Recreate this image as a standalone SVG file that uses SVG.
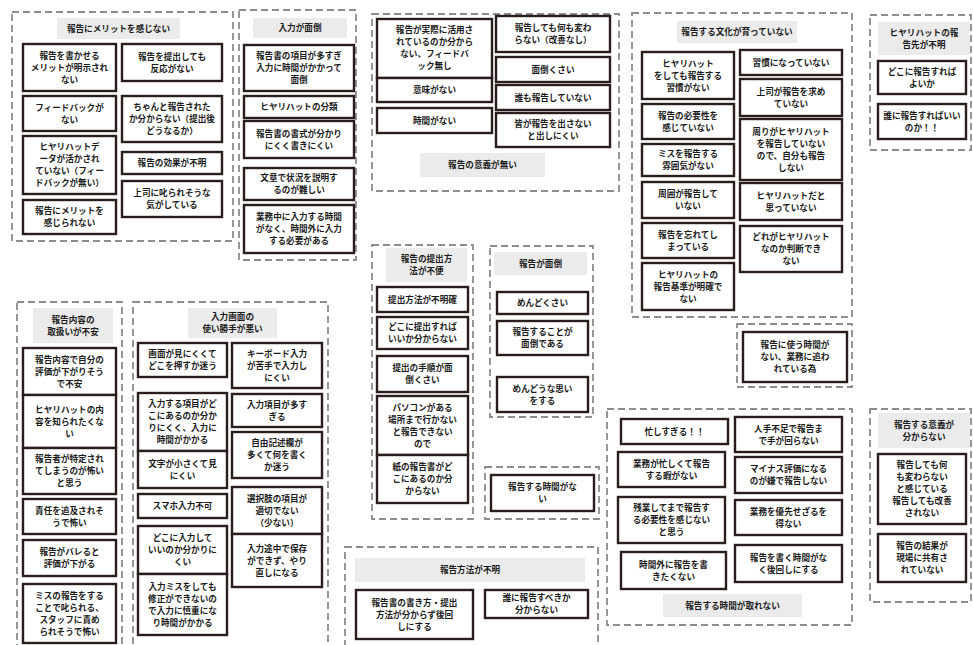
<svg xmlns="http://www.w3.org/2000/svg" width="973" height="645" viewBox="0 0 973 645">
<style>
.grp{fill:none;stroke:#8c8c8c;stroke-width:1.8;stroke-dasharray:7 4}
.bx{fill:#fff;stroke:#2b1d1b;stroke-width:2.4}
.hd{fill:#ebebeb}
.t{font-family:"Noto Sans CJK JP","Noto Sans",sans-serif;font-size:8.6px;font-weight:bold;fill:#1a1a1a;text-anchor:middle}
</style>
<rect width="973" height="645" fill="#fff"/>
<g id="connectors"/>

<g id="groupA">
<rect class="grp" x="12" y="12" width="221" height="229"/>
<rect class="hd" x="57" y="18" width="123" height="21"/>
<text class="t" x="118.5" y="31.5">報告にメリットを感じない</text>
<g id="A1"><rect class="bx" x="23" y="44" width="93" height="47"/><text class="t" y="58.5"><tspan x="69.5">報告を書かせる</tspan><tspan x="69.5" dy="12">メリットが明示され</tspan><tspan x="69.5" dy="12">ない</tspan></text></g>
<g id="A2"><rect class="bx" x="23" y="96" width="93" height="35"/><text class="t" y="110.5"><tspan x="69.5">フィードバックが</tspan><tspan x="69.5" dy="12">ない</tspan></text></g>
<g id="A3"><rect class="bx" x="23" y="136" width="93" height="58"/><text class="t" y="150"><tspan x="69.5">ヒヤリハットデ</tspan><tspan x="69.5" dy="12">ータが活かされ</tspan><tspan x="69.5" dy="12">ていない（フィー</tspan><tspan x="69.5" dy="12">ドバックが無い）</tspan></text></g>
<g id="A4"><rect class="bx" x="23" y="200" width="93" height="34"/><text class="t" y="214"><tspan x="69.5">報告にメリットを</tspan><tspan x="69.5" dy="12">感じられない</tspan></text></g>
<g id="A5"><rect class="bx" x="122" y="44" width="100" height="37"/><text class="t" y="59.5"><tspan x="172">報告を提出しても</tspan><tspan x="172" dy="12">反応がない</tspan></text></g>
<g id="A6"><rect class="bx" x="122" y="96" width="100" height="46"/><text class="t" y="110"><tspan x="172">ちゃんと報告された</tspan><tspan x="172" dy="12">か分からない（提出後</tspan><tspan x="172" dy="12">どうなるか）</tspan></text></g>
<g id="A7"><rect class="bx" x="122" y="152" width="100" height="22"/><text class="t" x="172" y="166">報告の効果が不明</text></g>
<g id="A8"><rect class="bx" x="122" y="181" width="100" height="36"/><text class="t" y="196"><tspan x="172">上司に叱られそうな</tspan><tspan x="172" dy="12">気がしている</tspan></text></g>
</g>

<g id="groupB">
<rect class="grp" x="239" y="10" width="117" height="250"/>
<rect class="hd" x="253" y="18" width="94" height="20"/>
<text class="t" x="300" y="31">入力が面倒</text>
<g id="B1"><rect class="bx" x="244" y="45" width="110" height="46"/><text class="t" y="59"><tspan x="299">報告書の項目が多すぎ</tspan><tspan x="299" dy="12">入力に時間がかかって</tspan><tspan x="299" dy="12">面倒</tspan></text></g>
<g id="B2"><rect class="bx" x="244" y="96" width="110" height="22"/><text class="t" x="299" y="110">ヒヤリハットの分類</text></g>
<g id="B3"><rect class="bx" x="244" y="121" width="110" height="37"/><text class="t" y="136.5"><tspan x="299">報告書の書式が分かり</tspan><tspan x="299" dy="12">にくく書きにくい</tspan></text></g>
<g id="B4"><rect class="bx" x="244" y="168" width="110" height="32"/><text class="t" y="181"><tspan x="299">文章で状況を説明す</tspan><tspan x="299" dy="12">るのが難しい</tspan></text></g>
<g id="B5"><rect class="bx" x="244" y="205" width="110" height="48"/><text class="t" y="220"><tspan x="299">業務中に入力する時間</tspan><tspan x="299" dy="12">がなく、時間外に入力</tspan><tspan x="299" dy="12">する必要がある</tspan></text></g>
</g>

<g id="groupC">
<rect class="grp" x="372" y="14" width="247" height="177"/>
<rect class="hd" x="420" y="153" width="125" height="24"/>
<text class="t" x="482.5" y="168">報告の意義が無い</text>
<g id="C1"><rect class="bx" x="377" y="19" width="115" height="59"/><text class="t" y="33"><tspan x="434.5">報告が実際に活用さ</tspan><tspan x="434.5" dy="12">れているのか分から</tspan><tspan x="434.5" dy="12">ない、フィードバ</tspan><tspan x="434.5" dy="12">ック無し</tspan></text></g>
<g id="C2"><rect class="bx" x="377" y="78" width="115" height="24"/><text class="t" x="434.5" y="93">意味がない</text></g>
<g id="C3"><rect class="bx" x="377" y="108" width="115" height="25"/><text class="t" x="434.5" y="123.5">時間がない</text></g>
<g id="C4"><rect class="bx" x="496" y="16" width="114" height="36"/><text class="t" y="31"><tspan x="553">報告しても何も変わ</tspan><tspan x="553" dy="12">らない（改善なし）</tspan></text></g>
<g id="C5"><rect class="bx" x="496" y="57" width="114" height="25"/><text class="t" x="553" y="72.5">面倒くさい</text></g>
<g id="C6"><rect class="bx" x="496" y="85" width="114" height="25"/><text class="t" x="553" y="100.5">誰も報告していない</text></g>
<g id="C7"><rect class="bx" x="496" y="113" width="114" height="34"/><text class="t" y="127"><tspan x="553">皆が報告を出さない</tspan><tspan x="553" dy="12">と出しにくい</tspan></text></g>
</g>

<g id="groupD">
<rect class="grp" x="632" y="13" width="220" height="304"/>
<rect class="hd" x="677" y="21" width="120" height="22"/>
<text class="t" x="737" y="35">報告する文化が育っていない</text>
<g id="D1"><rect class="bx" x="642" y="52" width="92" height="47"/><text class="t" y="66.5"><tspan x="688">ヒヤリハット</tspan><tspan x="688" dy="12">をしても報告する</tspan><tspan x="688" dy="12">習慣がない</tspan></text></g>
<g id="D2"><rect class="bx" x="642" y="104" width="92" height="35"/><text class="t" y="118.5"><tspan x="688">報告の必要性を</tspan><tspan x="688" dy="12">感じていない</tspan></text></g>
<g id="D3"><rect class="bx" x="642" y="144" width="92" height="32"/><text class="t" y="157"><tspan x="688">ミスを報告する</tspan><tspan x="688" dy="12">雰囲気がない</tspan></text></g>
<g id="D4"><rect class="bx" x="642" y="182" width="92" height="36"/><text class="t" y="197"><tspan x="688">周囲が報告して</tspan><tspan x="688" dy="12">いない</tspan></text></g>
<g id="D5"><rect class="bx" x="642" y="223" width="92" height="35"/><text class="t" y="237.5"><tspan x="688">報告を忘れてし</tspan><tspan x="688" dy="12">まっている</tspan></text></g>
<g id="D6"><rect class="bx" x="642" y="263" width="92" height="47"/><text class="t" y="277.5"><tspan x="688">ヒヤリハットの</tspan><tspan x="688" dy="12">報告基準が明確で</tspan><tspan x="688" dy="12">ない</tspan></text></g>
<g id="D7"><rect class="bx" x="740" y="50" width="102" height="25"/><text class="t" x="791" y="65.5">習慣になっていない</text></g>
<g id="D8"><rect class="bx" x="740" y="79" width="102" height="37"/><text class="t" y="94.5"><tspan x="791">上司が報告を求め</tspan><tspan x="791" dy="12">ていない</tspan></text></g>
<g id="D9"><rect class="bx" x="740" y="119" width="102" height="61"/><text class="t" y="134.5"><tspan x="791">周りがヒヤリハット</tspan><tspan x="791" dy="12">を報告していない</tspan><tspan x="791" dy="12">ので、自分も報告</tspan><tspan x="791" dy="12">しない</tspan></text></g>
<g id="D10"><rect class="bx" x="740" y="183" width="102" height="37"/><text class="t" y="198.5"><tspan x="791">ヒヤリハットだと</tspan><tspan x="791" dy="12">思っていない</tspan></text></g>
<g id="D11"><rect class="bx" x="740" y="226" width="102" height="46"/><text class="t" y="240"><tspan x="791">どれがヒヤリハット</tspan><tspan x="791" dy="12">なのか判断でき</tspan><tspan x="791" dy="12">ない</tspan></text></g>
</g>

<g id="groupE">
<rect class="grp" x="870" y="15" width="101" height="135"/>
<rect class="hd" x="878" y="22" width="92" height="33"/>
<text class="t" y="35.5"><tspan x="924">ヒヤリハットの報</tspan><tspan x="924" dy="12">告先が不明</tspan></text>
<g id="E1"><rect class="bx" x="878" y="61" width="88" height="33"/><text class="t" y="74.5"><tspan x="922">どこに報告すれば</tspan><tspan x="922" dy="12">よいか</tspan></text></g>
<g id="E2"><rect class="bx" x="878" y="104" width="88" height="35"/><text class="t" y="118.5"><tspan x="922">誰に報告すればいい</tspan><tspan x="922" dy="12">のか！！</tspan></text></g>
</g>

<g id="groupF">
<rect class="grp" x="17" y="302" width="105" height="350"/>
<rect class="hd" x="33" y="308" width="80" height="35"/>
<text class="t" y="322.5"><tspan x="73">報告内容の</tspan><tspan x="73" dy="12">取扱いが不安</tspan></text>
<g id="F1"><rect class="bx" x="23" y="348" width="93" height="47"/><text class="t" y="362.5"><tspan x="69.5">報告内容で自分の</tspan><tspan x="69.5" dy="12">評価が下がりそう</tspan><tspan x="69.5" dy="12">で不安</tspan></text></g>
<g id="F2"><rect class="bx" x="23" y="395" width="93" height="53"/><text class="t" y="412.5"><tspan x="69.5">ヒヤリハットの内</tspan><tspan x="69.5" dy="12">容を知られたくな</tspan><tspan x="69.5" dy="12">い</tspan></text></g>
<g id="F3"><rect class="bx" x="23" y="448" width="93" height="46"/><text class="t" y="462"><tspan x="69.5">報告者が特定され</tspan><tspan x="69.5" dy="12">てしまうのが怖い</tspan><tspan x="69.5" dy="12">と思う</tspan></text></g>
<g id="F4"><rect class="bx" x="23" y="499" width="93" height="35"/><text class="t" y="513.5"><tspan x="69.5">責任を追及されそ</tspan><tspan x="69.5" dy="12">うで怖い</tspan></text></g>
<g id="F5"><rect class="bx" x="23" y="540" width="93" height="36"/><text class="t" y="555"><tspan x="69.5">報告がバレると</tspan><tspan x="69.5" dy="12">評価が下がる</tspan></text></g>
<g id="F6"><rect class="bx" x="23" y="584" width="93" height="59"/><text class="t" y="598.5"><tspan x="69.5">ミスの報告をする</tspan><tspan x="69.5" dy="12">ことで叱られる、</tspan><tspan x="69.5" dy="12">スタッフに責め</tspan><tspan x="69.5" dy="12">られそうで怖い</tspan></text></g>
</g>

<g id="groupG">
<rect class="grp" x="133" y="302" width="195" height="350"/>
<rect class="hd" x="188" y="308" width="89" height="30"/>
<text class="t" y="320"><tspan x="232.5">入力画面の</tspan><tspan x="232.5" dy="12">使い勝手が悪い</tspan></text>
<g id="G1"><rect class="bx" x="138" y="343" width="89" height="34"/><text class="t" y="357"><tspan x="182.5">画面が見にくくて</tspan><tspan x="182.5" dy="12">どこを押すか迷う</tspan></text></g>
<g id="G2"><rect class="bx" x="138" y="393" width="89" height="58"/><text class="t" y="407"><tspan x="182.5">入力する項目がど</tspan><tspan x="182.5" dy="12">こにあるのか分か</tspan><tspan x="182.5" dy="12">りにくく、入力に</tspan><tspan x="182.5" dy="12">時間がかかる</tspan></text></g>
<g id="G3"><rect class="bx" x="138" y="451" width="89" height="37"/><text class="t" y="466.5"><tspan x="182.5">文字が小さくて見</tspan><tspan x="182.5" dy="12">にくい</tspan></text></g>
<g id="G4"><rect class="bx" x="138" y="494" width="89" height="24"/><text class="t" x="182.5" y="509">スマホ入力不可</text></g>
<g id="G5"><rect class="bx" x="138" y="526" width="89" height="48"/><text class="t" y="541"><tspan x="182.5">どこに入力して</tspan><tspan x="182.5" dy="12">いいのか分かりに</tspan><tspan x="182.5" dy="12">くい</tspan></text></g>
<g id="G6"><rect class="bx" x="138" y="574" width="89" height="61"/><text class="t" y="589.5"><tspan x="182.5">入力ミスをしても</tspan><tspan x="182.5" dy="12">修正ができないの</tspan><tspan x="182.5" dy="12">で入力に慎重にな</tspan><tspan x="182.5" dy="12">り時間がかかる</tspan></text></g>
<g id="G7"><rect class="bx" x="232" y="343" width="90" height="45"/><text class="t" y="356.5"><tspan x="277">キーボード入力</tspan><tspan x="277" dy="12">が苦手で入力し</tspan><tspan x="277" dy="12">にくい</tspan></text></g>
<g id="G8"><rect class="bx" x="232" y="394" width="90" height="33"/><text class="t" y="407.5"><tspan x="277">入力項目が多す</tspan><tspan x="277" dy="12">ぎる</tspan></text></g>
<g id="G9"><rect class="bx" x="232" y="432" width="90" height="46"/><text class="t" y="446"><tspan x="277">自由記述欄が</tspan><tspan x="277" dy="12">多くて何を書く</tspan><tspan x="277" dy="12">か迷う</tspan></text></g>
<g id="G10"><rect class="bx" x="232" y="487" width="90" height="47"/><text class="t" y="501.5"><tspan x="277">選択肢の項目が</tspan><tspan x="277" dy="12">適切でない</tspan><tspan x="277" dy="12">（少ない）</tspan></text></g>
<g id="G11"><rect class="bx" x="232" y="534" width="90" height="53"/><text class="t" y="551.5"><tspan x="277">入力途中で保存</tspan><tspan x="277" dy="12">ができず、やり</tspan><tspan x="277" dy="12">直しになる</tspan></text></g>
</g>

<g id="groupH">
<rect class="grp" x="372" y="245" width="101" height="274"/>
<rect class="hd" x="386" y="248" width="81" height="34"/>
<text class="t" y="262"><tspan x="426.5">報告の提出方</tspan><tspan x="426.5" dy="12">法が不便</tspan></text>
<g id="H1"><rect class="bx" x="377" y="287" width="91" height="25"/><text class="t" x="422.5" y="302.5">提出方法が不明確</text></g>
<g id="H2"><rect class="bx" x="377" y="317" width="91" height="32"/><text class="t" y="330"><tspan x="422.5">どこに提出すれば</tspan><tspan x="422.5" dy="12">いいか分からない</tspan></text></g>
<g id="H3"><rect class="bx" x="377" y="356" width="91" height="36"/><text class="t" y="371"><tspan x="422.5">提出の手順が面</tspan><tspan x="422.5" dy="12">倒くさい</tspan></text></g>
<g id="H4"><rect class="bx" x="377" y="396" width="91" height="59"/><text class="t" y="410.5"><tspan x="422.5">パソコンがある</tspan><tspan x="422.5" dy="12">場所まで行かない</tspan><tspan x="422.5" dy="12">と報告できない</tspan><tspan x="422.5" dy="12">ので</tspan></text></g>
<g id="H5"><rect class="bx" x="377" y="455" width="91" height="48"/><text class="t" y="470"><tspan x="422.5">紙の報告書がど</tspan><tspan x="422.5" dy="12">こにあるのか分</tspan><tspan x="422.5" dy="12">からない</tspan></text></g>
</g>

<g id="groupI">
<rect class="grp" x="490" y="246" width="103" height="171"/>
<rect class="hd" x="494" y="252" width="93" height="23"/>
<text class="t" x="540.5" y="266.5">報告が面倒</text>
<g id="I1"><rect class="bx" x="497" y="292" width="91" height="22"/><text class="t" x="542.5" y="306">めんどくさい</text></g>
<g id="I2"><rect class="bx" x="497" y="321" width="91" height="34"/><text class="t" y="335"><tspan x="542.5">報告することが</tspan><tspan x="542.5" dy="12">面倒である</tspan></text></g>
<g id="I3"><rect class="bx" x="497" y="377" width="91" height="35"/><text class="t" y="391.5"><tspan x="542.5">めんどうな思い</tspan><tspan x="542.5" dy="12">をする</tspan></text></g>
</g>

<g id="groupJ">
<rect class="grp" x="485" y="467" width="114" height="52"/>
<g id="J1"><rect class="bx" x="491" y="475" width="103" height="36"/><text class="t" y="490"><tspan x="542.5">報告する時間がな</tspan><tspan x="542.5" dy="12">い</tspan></text></g>
</g>

<g id="groupK">
<rect class="grp" x="737" y="324" width="115" height="63"/>
<g id="K1"><rect class="bx" x="743" y="332" width="104" height="50"/><text class="t" y="348"><tspan x="795">報告に使う時間が</tspan><tspan x="795" dy="12">ない、業務に追わ</tspan><tspan x="795" dy="12">れている為</tspan></text></g>
</g>

<g id="groupL">
<rect class="grp" x="607" y="409" width="245" height="216"/>
<rect class="hd" x="663" y="594" width="139" height="23"/>
<text class="t" x="732.5" y="608.5">報告する時間が取れない</text>
<g id="L1"><rect class="bx" x="621" y="419" width="107" height="25"/><text class="t" x="674.5" y="434.5">忙しすぎる！！</text></g>
<g id="L2"><rect class="bx" x="618" y="452" width="107" height="35"/><text class="t" y="466.5"><tspan x="671.5">業務が忙しくて報告</tspan><tspan x="671.5" dy="12">する暇がない</tspan></text></g>
<g id="L3"><rect class="bx" x="618" y="497" width="107" height="46"/><text class="t" y="511"><tspan x="671.5">残業してまで報告す</tspan><tspan x="671.5" dy="12">る必要性を感じない</tspan><tspan x="671.5" dy="12">と思う</tspan></text></g>
<g id="L4"><rect class="bx" x="621" y="552" width="105" height="37"/><text class="t" y="567.5"><tspan x="673.5">時間外に報告を書</tspan><tspan x="673.5" dy="12">きたくない</tspan></text></g>
<g id="L5"><rect class="bx" x="735" y="417" width="107" height="35"/><text class="t" y="431.5"><tspan x="788.5">人手不足で報告ま</tspan><tspan x="788.5" dy="12">で手が回らない</tspan></text></g>
<g id="L6"><rect class="bx" x="735" y="457" width="107" height="36"/><text class="t" y="472"><tspan x="788.5">マイナス評価になる</tspan><tspan x="788.5" dy="12">のが嫌で報告しない</tspan></text></g>
<g id="L7"><rect class="bx" x="735" y="500" width="107" height="35"/><text class="t" y="514.5"><tspan x="788.5">業務を優先せざるを</tspan><tspan x="788.5" dy="12">得ない</tspan></text></g>
<g id="L8"><rect class="bx" x="735" y="545" width="107" height="37"/><text class="t" y="560.5"><tspan x="788.5">報告を書く時間がな</tspan><tspan x="788.5" dy="12">く後回しにする</tspan></text></g>
</g>

<g id="groupM">
<rect class="grp" x="870" y="409" width="101" height="193"/>
<rect class="hd" x="878" y="413" width="92" height="35"/>
<text class="t" y="427.5"><tspan x="924">報告する意義が</tspan><tspan x="924" dy="12">分からない</tspan></text>
<g id="M1"><rect class="bx" x="878" y="454" width="88" height="70"/><text class="t" y="468"><tspan x="922">報告しても何</tspan><tspan x="922" dy="12">も変わらない</tspan><tspan x="922" dy="12">と感じている</tspan><tspan x="922" dy="12">報告しても改善</tspan><tspan x="922" dy="12">されない</tspan></text></g>
<g id="M2"><rect class="bx" x="878" y="534" width="88" height="48"/><text class="t" y="549"><tspan x="922">報告の結果が</tspan><tspan x="922" dy="12">現場に共有さ</tspan><tspan x="922" dy="12">れていない</tspan></text></g>
</g>

<g id="groupN">
<rect class="grp" x="345" y="547" width="253" height="105"/>
<rect class="hd" x="355" y="558" width="230" height="24"/>
<text class="t" x="470" y="573">報告方法が不明</text>
<g id="N1"><rect class="bx" x="356" y="590" width="117" height="49"/><text class="t" y="605.5"><tspan x="414.5">報告書の書き方・提出</tspan><tspan x="414.5" dy="12">方法が分からず後回</tspan><tspan x="414.5" dy="12">しにする</tspan></text></g>
<g id="N2"><rect class="bx" x="485" y="590" width="103" height="28"/><text class="t" y="601"><tspan x="536.5">誰に報告すべきか</tspan><tspan x="536.5" dy="12">分からない</tspan></text></g>
</g>
</svg>
